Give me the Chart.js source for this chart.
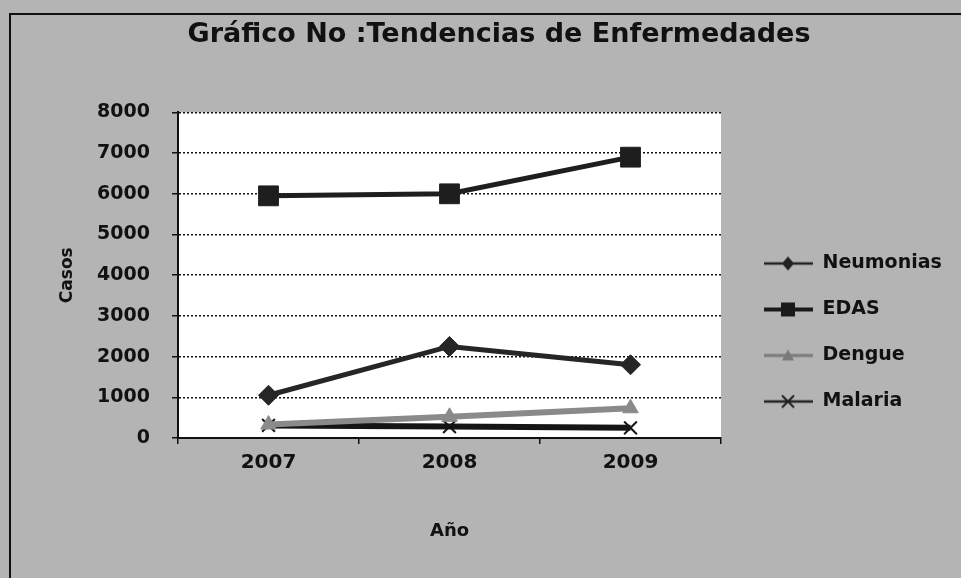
<!DOCTYPE html>
<html>
<head>
<meta charset="utf-8">
<script src="https://cdn.jsdelivr.net/npm/chart.js@4.4.1/dist/chart.umd.min.js"></script>
<style>
  html, body { margin: 0; padding: 0; background: #b4b4b4; overflow: hidden; }
  #frame { position: absolute; left: 9px; top: 13px; right: -6px; bottom: -6px; border: 2px solid #111; }
  #wrap { position: absolute; left: 0; top: 0; width: 961px; height: 578px; }
</style>
</head>
<body>
<div id="frame"></div>
<div id="wrap"><canvas id="chart" width="961" height="578"></canvas></div>
<script>
const years = ['2007', '2008', '2009'];
const neumonias = [1050, 2250, 1800];
const edas = [5950, 6000, 6900];
const dengue = [330, 520, 730];
const malaria = [310, 280, 250];

const yTicks = [0, 1000, 2000, 3000, 4000, 5000, 6000, 7000, 8000];

const FONT = 'DejaVu Sans';

// little legend icon: a line with the marker in the middle
function legendIcon(color, width, marker) {
  const c = document.createElement('canvas');
  c.width = 65; c.height = 22;
  const ctx = c.getContext('2d');
  ctx.strokeStyle = color;
  ctx.fillStyle = color;
  ctx.lineWidth = width;
  ctx.beginPath();
  ctx.moveTo(16, 11); ctx.lineTo(65, 11);
  ctx.stroke();
  const cx = 40, cy = 11;
  ctx.beginPath();
  if (marker === 'diamond') {
    ctx.moveTo(cx, cy - 7); ctx.lineTo(cx + 6, cy); ctx.lineTo(cx, cy + 7); ctx.lineTo(cx - 6, cy);
    ctx.closePath(); ctx.fill();
  } else if (marker === 'square') {
    ctx.rect(cx - 7, cy - 7, 14, 14); ctx.fill();
  } else if (marker === 'triangle') {
    ctx.moveTo(cx, cy - 6); ctx.lineTo(cx + 6, cy + 5); ctx.lineTo(cx - 6, cy + 5);
    ctx.closePath(); ctx.fill();
  } else {
    ctx.lineWidth = 2;
    ctx.moveTo(cx - 6, cy - 6); ctx.lineTo(cx + 6, cy + 6);
    ctx.moveTo(cx + 6, cy - 6); ctx.lineTo(cx - 6, cy + 6);
    ctx.stroke();
  }
  return c;
}

const icons = [
  legendIcon('#222', 2.5, 'diamond'),
  legendIcon('#1a1a1a', 4, 'square'),
  legendIcon('#7a7a7a', 3, 'triangle'),
  legendIcon('#222', 2.5, 'cross')
];

const plotBackground = {
  id: 'plotBackground',
  beforeDraw(chart) {
    const { ctx, chartArea: a } = chart;
    ctx.save();
    ctx.fillStyle = '#ffffff';
    ctx.fillRect(a.left, a.top, a.right - a.left, a.bottom - a.top);
    ctx.restore();
  }
};

new Chart(document.getElementById('chart'), {
  type: 'line',
  data: {
    labels: years,
    datasets: [
      {
        label: 'Neumonias', data: neumonias,
        borderColor: '#262626', backgroundColor: '#262626',
        borderWidth: 5, pointStyle: 'rectRot', pointRadius: 10, pointBorderWidth: 1
      },
      {
        label: 'EDAS', data: edas,
        borderColor: '#1e1e1e', backgroundColor: '#1e1e1e',
        borderWidth: 5, pointStyle: 'rect', pointRadius: 14, pointBorderWidth: 1
      },
      {
        label: 'Dengue', data: dengue,
        borderColor: '#8a8a8a', backgroundColor: '#8a8a8a',
        borderWidth: 6, pointStyle: 'triangle', pointRadius: 9, pointBorderWidth: 1
      },
      {
        label: 'Malaria', data: malaria,
        borderColor: '#151515', backgroundColor: '#151515',
        borderWidth: 6, pointStyle: 'crossRot', pointRadius: 9, pointBorderWidth: 2
      }
    ]
  },
  options: {
    responsive: false,
    animation: false,
    layout: { padding: { left: 55, right: 18, top: 10, bottom: 30 } },
    plugins: {
      title: {
        display: true,
        text: 'Gráfico No :Tendencias de Enfermedades',
        color: '#111',
        font: { family: FONT, size: 27, weight: 'bold' },
        padding: { top: 9, bottom: 61 }
      },
      legend: {
        position: 'right',
        fullSize: false,
        align: 'end',
        labels: {
          usePointStyle: true,
          pointStyleWidth: 65,
          padding: 27,
          color: '#111',
          font: { family: FONT, size: 19, weight: 'bold' },
          generateLabels(chart) {
            return chart.data.datasets.map((ds, i) => ({
              text: ds.label,
              pointStyle: icons[i],
              fillStyle: 'rgba(0,0,0,0)',
              strokeStyle: 'rgba(0,0,0,0)',
              lineWidth: 0,
              fontColor: '#111',
              hidden: !chart.isDatasetVisible(i),
              datasetIndex: i
            }));
          }
        }
      },
      tooltip: { enabled: false }
    },
    scales: {
      x: {
        offset: true,
        afterFit(scale) { scale.height = 110; },
        grid: { drawOnChartArea: false, offset: true, color: '#111', tickLength: 6, lineWidth: 1.5 },
        border: { color: '#111', width: 2 },
        ticks: { color: '#111', padding: 7, font: { family: FONT, size: 20, weight: 'bold' } },
        title: {
          display: true, text: 'Año', color: '#111',
          font: { family: FONT, size: 18, weight: 'bold' },
          padding: { top: 0, bottom: 6 }
        }
      },
      y: {
        min: 0, max: 8000,
        afterFit(scale) { scale.width = 123; },
        afterBuildTicks(scale) { scale.ticks = yTicks.map(v => ({ value: v })); },
        grid: {
          color: '#111', lineWidth: 1.5,
          tickLength: 6, tickBorderDash: [], tickColor: '#111'
        },
        border: { color: '#111', width: 2, dash: [2, 2] },
        ticks: {
          color: '#111', padding: 22,
          font: { family: FONT, size: 19, weight: 'bold' },
          callback: v => String(v)
        },
        title: {
          display: true, text: 'Casos', color: '#111',
          font: { family: FONT, size: 17, weight: 'bold' },
          padding: { top: 2, bottom: 0 }
        }
      }
    }
  },
  plugins: [plotBackground]
});
</script>
</body>
</html>
